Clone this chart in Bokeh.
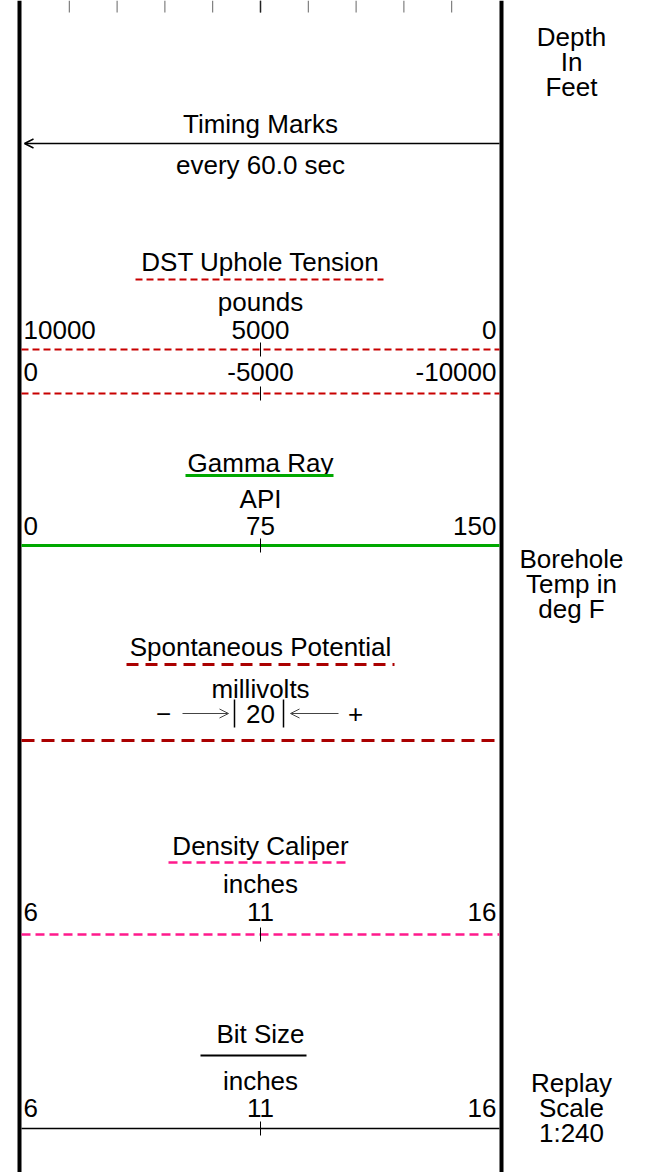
from bokeh.plotting import figure
from bokeh.models import Range1d, Arrow, OpenHead
from bokeh.core.properties import value
from bokeh.embed import file_html
from bokeh.resources import INLINE

# ---------------- data ----------------
depth_label = ["Depth", "In", "Feet"]
temp_label = ["Borehole", "Temp in", "deg F"]
replay_label = ["Replay", "Scale", "1:240"]
timing_title = "Timing Marks"
timing_note = "every 60.0 sec"
curve_names = ["DST Uphole Tension", "Gamma Ray", "Spontaneous Potential",
               "Density Caliper", "Bit Size"]
curve_units = ["pounds", "API", "millivolts", "inches", "inches"]
curve_colors = ["#c80000", "#00a800", "#aa0000", "#ff1a8c", "#000000"]
dst_scale_1 = ["10000", "5000", "0"]
dst_scale_2 = ["0", "-5000", "-10000"]
gr_scale = ["0", "75", "150"]
sp_scale = "20"
cal_scale = ["6", "11", "16"]
bit_scale = ["6", "11", "16"]

# ---------------- figure ----------------
W, H = 645, 1172
FONT = "Liberation Sans"
FS = "26px"

p = figure(width=W, height=H, output_backend="svg", toolbar_location=None,
           x_range=Range1d(0, W), y_range=Range1d(H, 0),
           min_border=0, outline_line_color=None)
p.axis.visible = False
p.grid.visible = False
p.background_fill_color = "white"
p.border_fill_color = "white"
p.styles = {"position": "absolute", "left": "0px", "top": "0px"}

XL, XR = 21, 499
XC = 260
XTEXT = 571


def txt(x, y, s, align="center"):
    p.text(x=[x], y=[y], text=[s], text_font=value(FONT), text_font_size=FS,
           text_align=align, text_baseline="middle", text_color="black")


def hline(y, x0, x1, color, width, dash="solid"):
    p.line(x=[x0, x1], y=[y, y], line_color=color, line_width=width, line_dash=dash)


def tick(y, half=7):
    p.segment(x0=[XC], y0=[y - half], x1=[XC], y1=[y + half], line_color="black", line_width=1)


def scale_row(y, labels):
    txt(XL + 2, y, labels[0], "left")
    txt(XC, y, labels[1], "center")
    txt(XR - 3, y, labels[2], "right")


# borders
p.segment(x0=[19, 501], y0=[0, 0], x1=[19, 501], y1=[H, H], line_color="black", line_width=4)

# top depth ticks
tx = [XL + (XR - XL) * k / 10 for k in range(1, 10)]
p.segment(x0=tx, y0=[0] * 9, x1=tx, y1=[12] * 9, line_color="#666666", line_width=1)
p.segment(x0=[tx[4]], y0=[0], x1=[tx[4]], y1=[12], line_color="#222222", line_width=1.5)

# right column text
for i, s in enumerate(depth_label):
    txt(XTEXT, 36 + 25 * i, s)
for i, s in enumerate(temp_label):
    txt(XTEXT, 558 + 25 * i, s)
for i, s in enumerate(replay_label):
    txt(XTEXT, 1082 + 25 * i, s)

# timing marks
txt(XC, 123, timing_title)
p.add_layout(Arrow(end=OpenHead(size=9, line_width=1.5, line_color="black"),
                   x_start=XR, y_start=143, x_end=XL + 3, y_end=143,
                   line_color="black", line_width=1.5))
txt(XC, 164, timing_note)

# DST uphole tension
txt(XC, 261, curve_names[0])
hline(279, 135, 383, curve_colors[0], 2, "7 4")
txt(XC, 301, curve_units[0])
scale_row(329, dst_scale_1)
hline(349, XL, XR, curve_colors[0], 2, "7 4")
tick(349)
scale_row(371, dst_scale_2)
hline(393, XL, XR, curve_colors[0], 2, "7 4")
tick(393)

# Gamma ray
txt(XC, 462, curve_names[1])
hline(475, 185, 333, curve_colors[1], 3)
txt(XC, 498, curve_units[1])
scale_row(525, gr_scale)
hline(545, XL, XR, curve_colors[1], 3)
tick(545)

# Spontaneous potential
txt(XC, 646, curve_names[2])
hline(664, 126, 394, curve_colors[2], 3, "12 7")
txt(XC, 688, curve_units[2])
ysp = 713
txt(163, ysp, "\u2212")
p.add_layout(Arrow(end=OpenHead(size=9, line_width=1, line_color="#444444"),
                   x_start=182, y_start=ysp, x_end=228, y_end=ysp,
                   line_color="#444444", line_width=1))
p.segment(x0=[234, 283], y0=[ysp - 14, ysp - 14], x1=[234, 283], y1=[ysp + 14, ysp + 14],
          line_color="black", line_width=1.5)
txt(XC, ysp, sp_scale)
p.add_layout(Arrow(end=OpenHead(size=9, line_width=1, line_color="#444444"),
                   x_start=338, y_start=ysp, x_end=290, y_end=ysp,
                   line_color="#444444", line_width=1))
txt(355, ysp, "+")
hline(740, XL, XR, curve_colors[2], 3, "13 7")

# Density caliper
txt(XC, 845, curve_names[3])
hline(862, 168, 349, curve_colors[3], 2.5, "9 5")
txt(XC, 883, curve_units[3])
scale_row(911, cal_scale)
hline(934, XL, XR, curve_colors[3], 2.5, "9 5")
tick(934)

# Bit size
txt(XC, 1033, curve_names[4])
hline(1055, 200, 306, curve_colors[4], 2)
txt(XC, 1080, curve_units[4])
scale_row(1107, bit_scale)
hline(1128, XL, XR, curve_colors[4], 1.5)
tick(1128)

open("out.html", "w").write(file_html(p, INLINE))
